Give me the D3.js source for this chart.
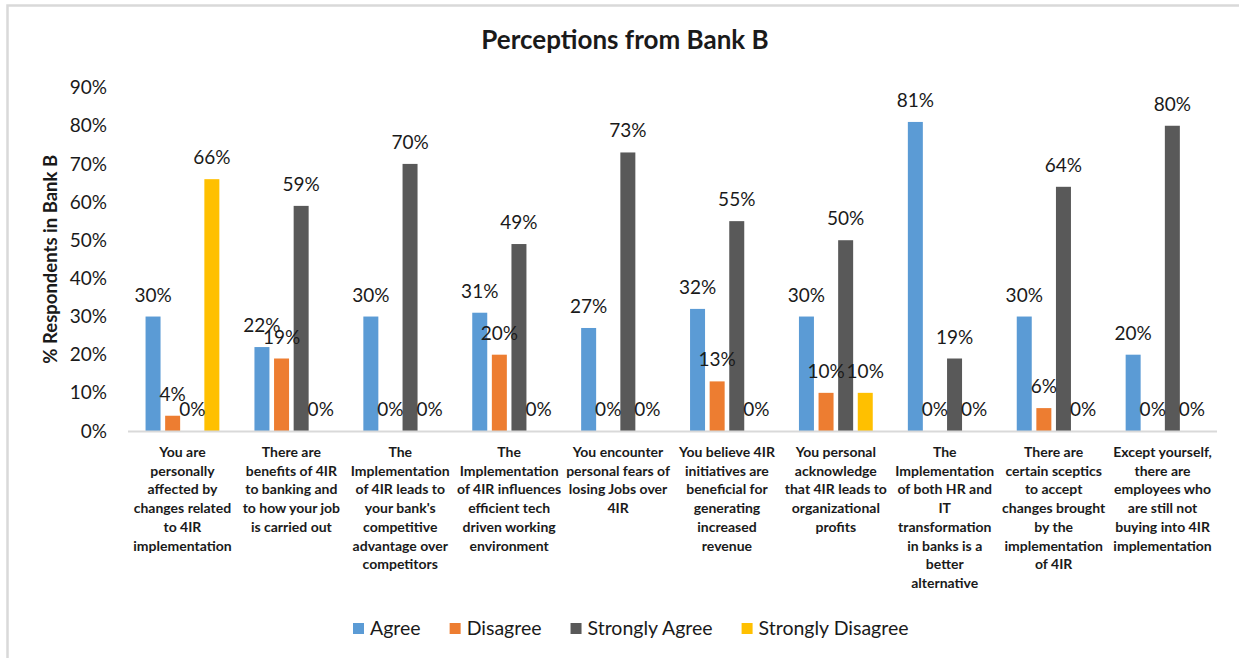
<!DOCTYPE html>
<html>
<head>
<meta charset="utf-8">
<script src="https://cdn.jsdelivr.net/npm/d3@7"></script>
<style>
  html, body { margin: 0; padding: 0; background: #fff; }
  svg { display: block; font-family: Lato, "Open Sans", sans-serif; }
</style>
</head>
<body>
<svg id="chart" width="1239" height="658"></svg>
<script>
// Survey statements (line breaks mark the wrapped label lines)
const categories = [
  "You are\npersonally\naffected by\nchanges related\nto 4IR\nimplementation",
  "There are\nbenefits of 4IR\nto banking and\nto how your job\nis carried out",
  "The\nImplementation\nof 4IR leads to\nyour bank's\ncompetitive\nadvantage over\ncompetitors",
  "The\nImplementation\nof 4IR influences\nefficient tech\ndriven working\nenvironment",
  "You encounter\npersonal fears of\nlosing Jobs over\n4IR",
  "You believe 4IR\ninitiatives are\nbeneficial for\ngenerating\nincreased\nrevenue",
  "You personal\nacknowledge\nthat 4IR leads to\norganizational\nprofits",
  "The\nImplementation\nof both HR and\nIT\ntransformation\nin banks is a\nbetter\nalternative",
  "There are\ncertain sceptics\nto accept\nchanges brought\nby the\nimplementation\nof 4IR",
  "Except yourself,\nthere are\nemployees who\nare still not\nbuying into 4IR\nimplementation"
];

const seriesNames = ["Agree", "Disagree", "Strongly Agree", "Strongly Disagree"];
const seriesColors = ["#5B9BD5", "#ED7D31", "#595959", "#FFC000"];

// Share of respondents per statement
const agree           = [0.30, 0.22, 0.30, 0.31, 0.27, 0.32, 0.30, 0.81, 0.30, 0.20];
const disagree        = [0.04, 0.19, 0.00, 0.20, 0.00, 0.13, 0.10, 0.00, 0.06, 0.00];
const stronglyAgree   = [0.00, 0.59, 0.70, 0.49, 0.73, 0.55, 0.50, 0.19, 0.64, 0.80];
const stronglyDisagree= [0.66, 0.00, 0.00, 0.00, 0.00, 0.00, 0.10, 0.00, 0.00, 0.00];

const yTicks = [0, 0.1, 0.2, 0.3, 0.4, 0.5, 0.6, 0.7, 0.8, 0.9];

const seriesValues = [agree, disagree, stronglyAgree, stronglyDisagree];
const rows = categories.map((c, i) => ({
  cat: c,
  values: seriesNames.map((s, k) => ({ series: s, value: seriesValues[k][i], k }))
}));

const svg = d3.select("#chart");
const textColor = "#1a1a1a";

// Outer chart frame
svg.append("rect")
  .attr("x", 7.5).attr("y", 5.5)
  .attr("width", 1240).attr("height", 660)
  .attr("fill", "#fff")
  .attr("stroke", "#d9d9d9").attr("stroke-width", 2.5);

const plot = { left: 128, right: 1217, top: 87.6, bottom: 431 };

const x = d3.scaleBand().domain(categories).range([plot.left, plot.right]).padding(0);
const bw = x.bandwidth();
const groupW = bw * 0.72;
const pad = 0.235;
const xs = d3.scaleBand().domain(seriesNames)
  .range([(bw - groupW) / 2, (bw + groupW) / 2])
  .paddingInner(pad).paddingOuter(pad / 2);
const y = d3.scaleLinear().domain([0, 0.9]).range([plot.bottom, plot.top]);

// Title
svg.append("text")
  .attr("x", 625).attr("y", 49)
  .attr("text-anchor", "middle")
  .attr("font-size", 26).attr("font-weight", 700)
  .attr("fill", textColor)
  .text("Perceptions from Bank B");

// Y axis labels
const yAxis = d3.axisLeft(y).tickValues(yTicks).tickFormat(d3.format(".0%")).tickSize(0).tickPadding(21);
const yg = svg.append("g").attr("transform", `translate(${plot.left},0)`).call(yAxis);
yg.select(".domain").remove();
yg.selectAll("text")
  .attr("font-family", "Lato, 'Open Sans', sans-serif")
  .attr("font-size", 19).attr("fill", textColor);

// Y axis title
svg.append("text")
  .attr("transform", `translate(57,${(plot.top + plot.bottom) / 2}) rotate(-90)`)
  .attr("text-anchor", "middle")
  .attr("font-size", 18.5).attr("font-weight", 700)
  .attr("fill", textColor)
  .text("% Respondents in Bank B");

// Bars
const groups = svg.append("g").selectAll("g.cat")
  .data(rows).join("g")
  .attr("class", "cat")
  .attr("transform", d => `translate(${x(d.cat)},0)`);

groups.selectAll("rect")
  .data(d => d.values).join("rect")
  .attr("x", d => xs(d.series))
  .attr("width", xs.bandwidth())
  .attr("y", d => y(d.value))
  .attr("height", d => y(0) - y(d.value))
  .attr("fill", d => seriesColors[d.k]);

// Data labels
groups.selectAll("text.val")
  .data(d => d.values).join("text")
  .attr("class", "val")
  .attr("x", d => xs(d.series) + xs.bandwidth() / 2)
  .attr("y", d => y(d.value) - 15)
  .attr("text-anchor", "middle")
  .attr("font-size", 19)
  .attr("fill", textColor)
  .text(d => d3.format(".0%")(d.value));

// Category axis line
svg.append("line")
  .attr("x1", plot.left).attr("x2", plot.right)
  .attr("y1", plot.bottom + 0.5).attr("y2", plot.bottom + 0.5)
  .attr("stroke", "#d9d9d9").attr("stroke-width", 2);

// Category labels
const catLabels = svg.append("g").selectAll("text")
  .data(categories).join("text")
  .attr("x", d => x(d) + bw / 2)
  .attr("y", 457)
  .attr("text-anchor", "middle")
  .attr("font-size", 14).attr("font-weight", 700)
  .attr("fill", textColor);
catLabels.selectAll("tspan")
  .data(d => d.split("\n")).join("tspan")
  .attr("x", function() { return this.parentNode.getAttribute("x"); })
  .attr("dy", (d, i) => i === 0 ? 0 : 18.7)
  .text(d => d);

// Legend
const legend = svg.append("g");
let lx = 353;
seriesNames.forEach((s, k) => {
  legend.append("rect")
    .attr("x", lx).attr("y", 623)
    .attr("width", 11).attr("height", 11)
    .attr("fill", seriesColors[k]);
  const t = legend.append("text")
    .attr("x", lx + 17).attr("y", 635)
    .attr("font-size", 19.5).attr("fill", textColor)
    .text(s);
  lx += 17 + t.node().getComputedTextLength() + 29;
});
</script>
</body>
</html>
